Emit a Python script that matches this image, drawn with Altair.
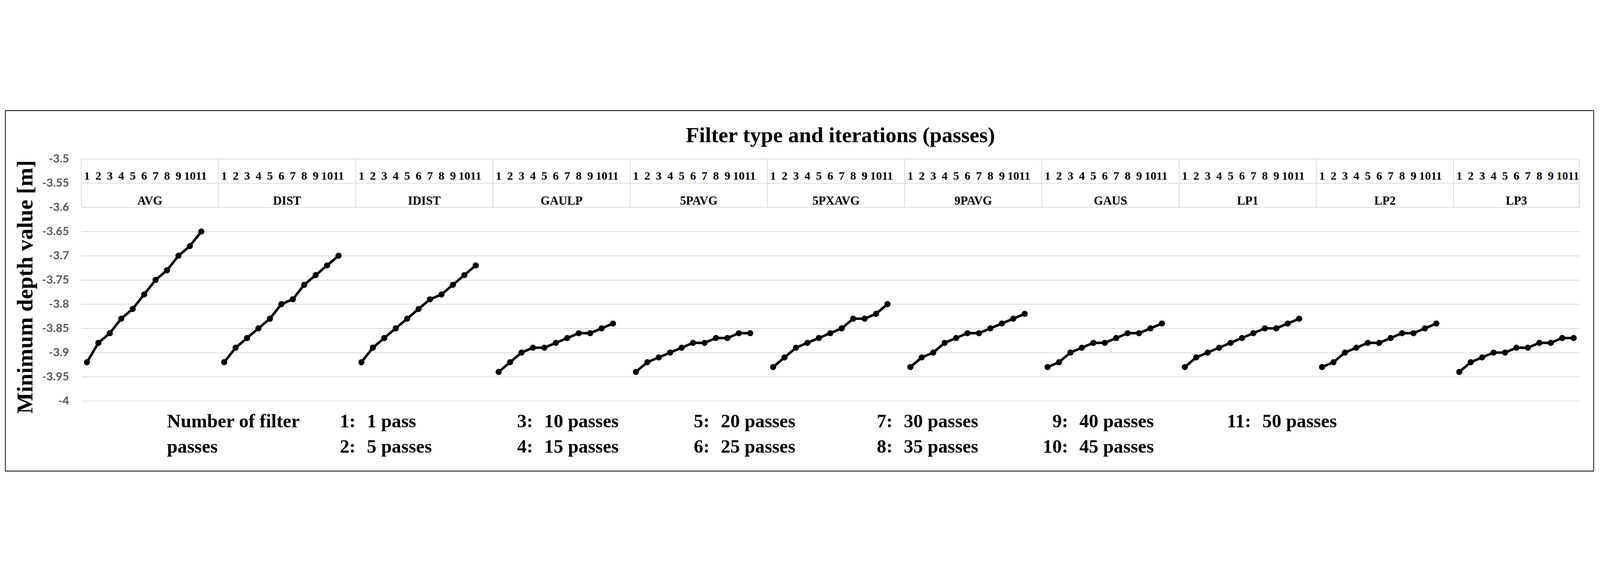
import altair as alt
import pandas as pd

# ---------------- data ----------------
filters = ["AVG", "DIST", "IDIST", "GAULP", "5PAVG", "5PXAVG", "9PAVG",
           "GAUS", "LP1", "LP2", "LP3"]
iterations = ["1", "2", "3", "4", "5", "6", "7", "8", "9", "10", "11"]

avg    = [-3.92, -3.88, -3.86, -3.83, -3.81, -3.78, -3.75, -3.73, -3.70, -3.68, -3.65]
dist   = [-3.92, -3.89, -3.87, -3.85, -3.83, -3.80, -3.79, -3.76, -3.74, -3.72, -3.70]
idist  = [-3.92, -3.89, -3.87, -3.85, -3.83, -3.81, -3.79, -3.78, -3.76, -3.74, -3.72]
gaulp  = [-3.94, -3.92, -3.90, -3.89, -3.89, -3.88, -3.87, -3.86, -3.86, -3.85, -3.84]
p5avg  = [-3.94, -3.92, -3.91, -3.90, -3.89, -3.88, -3.88, -3.87, -3.87, -3.86, -3.86]
p5xavg = [-3.93, -3.91, -3.89, -3.88, -3.87, -3.86, -3.85, -3.83, -3.83, -3.82, -3.80]
p9avg  = [-3.93, -3.91, -3.90, -3.88, -3.87, -3.86, -3.86, -3.85, -3.84, -3.83, -3.82]
gaus   = [-3.93, -3.92, -3.90, -3.89, -3.88, -3.88, -3.87, -3.86, -3.86, -3.85, -3.84]
lp1    = [-3.93, -3.91, -3.90, -3.89, -3.88, -3.87, -3.86, -3.85, -3.85, -3.84, -3.83]
lp2    = [-3.93, -3.92, -3.90, -3.89, -3.88, -3.88, -3.87, -3.86, -3.86, -3.85, -3.84]
lp3    = [-3.94, -3.92, -3.91, -3.90, -3.90, -3.89, -3.89, -3.88, -3.88, -3.87, -3.87]
series = [avg, dist, idist, gaulp, p5avg, p5xavg, p9avg, gaus, lp1, lp2, lp3]

pass_numbers = ["1:", "2:", "3:", "4:", "5:", "6:", "7:", "8:", "9:", "10:", "11:"]
pass_counts = ["1 pass", "5 passes", "10 passes", "15 passes", "20 passes",
               "25 passes", "30 passes", "35 passes", "40 passes", "45 passes",
               "50 passes"]
y_ticks = [-3.5, -3.55, -3.6, -3.65, -3.7, -3.75, -3.8, -3.85, -3.9, -3.95, -4]

TITLE = "Filter type and iterations (passes)"
Y_TITLE = "Minimum depth value [m]"
LEGEND_HEAD = ["Number of filter", "passes"]

# ---------------- layout ----------------
PLOT_W, PLOT_H = 5985, 967
SERIF = "Liberation Serif"
SANS = "Lato"
GRID = "#d9d9d9"

slots_per_group = len(iterations) + 1          # one blank slot between groups
total_slots = len(filters) * slots_per_group - 1
Y_MIN, Y_MAX = -4, -3.5
HEAD_ROW1, HEAD_ROW2 = -3.55, -3.6              # bottoms of the two header rows

# legend layout (slot units for x, depth units for y)
LEG_HEAD_X = 7.5
LEG_COL_X = [24.0, 39.5, 54.95, 70.95, 86.3, 102.3]
LEG_GAP = 0.98
LEG_ROW_Y = [-4.0548, -4.1070]

# ---------------- tables ----------------
pts = []
for g, (f, vals) in enumerate(zip(filters, series)):
    for i, v in enumerate(vals):
        pts.append({"filter": f, "iter": iterations[i],
                    "slot": g * slots_per_group + i + 0.5, "depth": v})
pts = pd.DataFrame(pts)

nums = []
for g, f in enumerate(filters):
    for i, lab in enumerate(iterations):
        nums.append({"slot": g * slots_per_group + i + 0.5, "label": lab,
                     "depth": HEAD_ROW1})
nums = pd.DataFrame(nums)

groups = []
for g, f in enumerate(filters):
    s = g * slots_per_group
    e = min(s + slots_per_group, total_slots)
    groups.append({"slot": (s + e) / 2, "label": f, "depth": HEAD_ROW2})
groups = pd.DataFrame(groups)

bounds = pd.DataFrame({
    "slot": [g * slots_per_group for g in range(len(filters))] + [total_slots],
    "depth": Y_MAX, "depth2": HEAD_ROW2})

leg_num, leg_txt = [], []
for k, (n, t) in enumerate(zip(pass_numbers, pass_counts)):
    c, r = k // 2, k % 2
    leg_num.append({"slot": LEG_COL_X[c], "depth": LEG_ROW_Y[r], "label": n})
    leg_txt.append({"slot": LEG_COL_X[c] + LEG_GAP, "depth": LEG_ROW_Y[r], "label": t})
leg_num = pd.DataFrame(leg_num)
leg_txt = pd.DataFrame(leg_txt)
leg_head = pd.DataFrame({"slot": [LEG_HEAD_X, LEG_HEAD_X], "depth": LEG_ROW_Y,
                         "label": LEGEND_HEAD})

# ---------------- encodings ----------------
x_scale = alt.Scale(domain=[0, total_slots], nice=False, zero=False)
y_scale = alt.Scale(domain=[Y_MIN, Y_MAX], nice=False, zero=False)
y_axis = alt.Axis(
    values=y_ticks, labelExpr="toString(datum.value)",
    domain=False, ticks=False, grid=True, gridColor=GRID, gridWidth=3,
    labelFont=SANS, labelFontWeight="bold", labelFontSize=46,
    labelColor="#595959", labelPadding=49, labelFlush=False, labelOverlap=False,
    title=Y_TITLE, titleFont=SERIF, titleFontSize=90, titleFontWeight="bold",
    titleColor="black", titleAngle=270, titleX=-196, titleY=511,
    titleAlign="center", titleBaseline="alphabetic")
X = alt.X("slot:Q", scale=x_scale, axis=None)
Y = alt.Y("depth:Q", scale=y_scale, axis=y_axis)

lines = alt.Chart(pts).mark_line(color="black", strokeWidth=10,
                                 strokeJoin="round", strokeCap="round").encode(
    x=X, y=Y, detail="filter:N")
dots = alt.Chart(pts).mark_circle(color="black", size=600, opacity=1).encode(
    x=X, y=Y, tooltip=["filter:N", "iter:N", "depth:Q"])

seps = alt.Chart(bounds).mark_rule(color=GRID, strokeWidth=3).encode(
    x=X, y=Y, y2="depth2:Q")
num_text = alt.Chart(nums).mark_text(
    font=SERIF, fontWeight="bold", fontSize=47, color="black",
    baseline="alphabetic", align="center", dy=-14).encode(x=X, y=Y, text="label:N")
grp_text = alt.Chart(groups).mark_text(
    font=SERIF, fontWeight="bold", fontSize=48, color="black",
    baseline="alphabetic", align="center", dy=-11).encode(x=X, y=Y, text="label:N")

leg_style = dict(font=SERIF, fontWeight="bold", fontSize=76, color="black",
                 baseline="alphabetic")
leg_h = alt.Chart(leg_head).mark_text(align="left", **leg_style).encode(
    x=X, y=Y, text="label:N")
leg_n = alt.Chart(leg_num).mark_text(align="right", **leg_style).encode(
    x=X, y=Y, text="label:N")
leg_t = alt.Chart(leg_txt).mark_text(align="left", **leg_style).encode(
    x=X, y=Y, text="label:N")

title = alt.Chart(alt.Data(values=[{}])).mark_text(
    text=TITLE, font=SERIF, fontWeight="bold", fontSize=87, color="black",
    align="center", baseline="alphabetic").encode(
    x=alt.value(3033), y=alt.value(-67))
frame = alt.Chart(alt.Data(values=[{}])).mark_rect(
    filled=False, stroke="black", strokeWidth=3).encode(
    x=alt.value(-303), x2=alt.value(6042), y=alt.value(-193), y2=alt.value(1247))

chart = alt.layer(
    seps, num_text, grp_text, lines, dots, leg_h, leg_n, leg_t, title, frame
).properties(
    width=PLOT_W, height=PLOT_H,
    autosize=alt.AutoSizeParams(type="none"),
    padding={"left": 312, "top": 211, "right": 70, "bottom": 290},
    background="white",
).configure_view(strokeWidth=0)

chart.save("out.html", embed_options={"renderer": "svg", "actions": False})
